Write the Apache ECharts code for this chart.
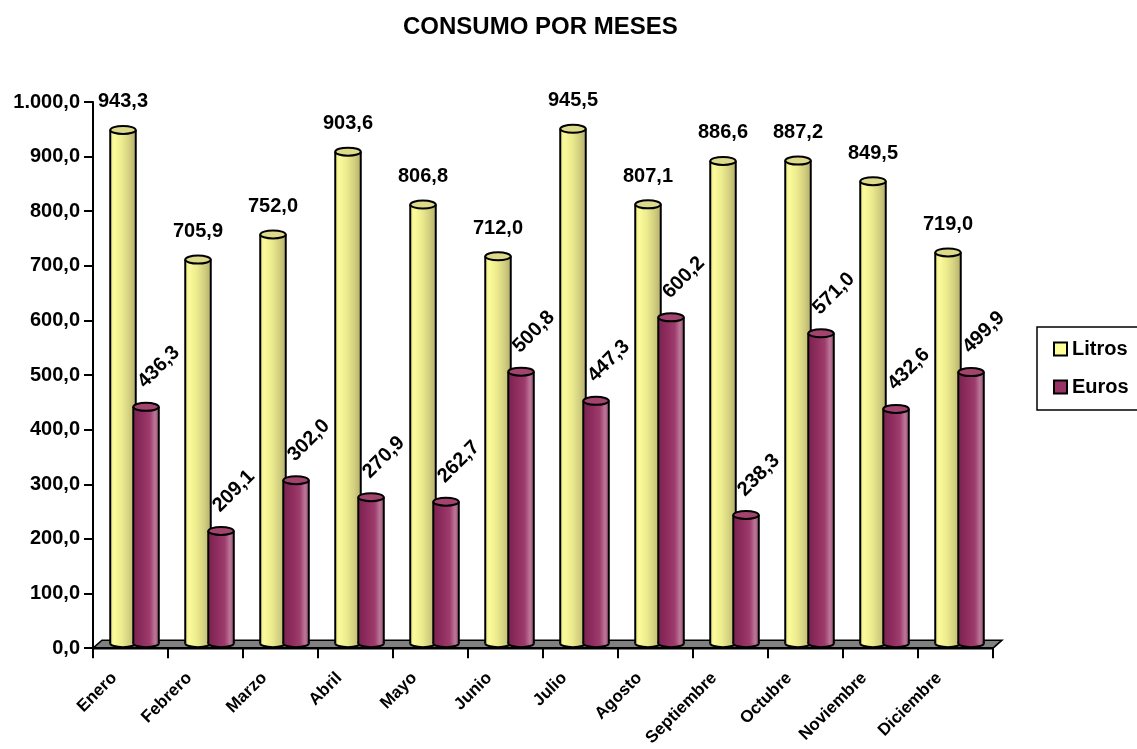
<!DOCTYPE html>
<html>
<head>
<meta charset="utf-8">
<script src="https://cdn.jsdelivr.net/npm/echarts@6/dist/echarts.min.js"></script>
<style>
html,body{margin:0;padding:0;background:#fff;}
#chart{width:1137px;height:749px;}
</style>
</head>
<body>
<div id="chart"></div>
<script>
const categories = ['Enero','Febrero','Marzo','Abril','Mayo','Junio','Julio','Agosto','Septiembre','Octubre','Noviembre','Diciembre'];
const litros = [943.3, 705.9, 752.0, 903.6, 806.8, 712.0, 945.5, 807.1, 886.6, 887.2, 849.5, 719.0];
const euros = [436.3, 209.1, 302.0, 270.9, 262.7, 500.8, 447.3, 600.2, 238.3, 571.0, 432.6, 499.9];
const seriesNames = ['Litros', 'Euros'];
const titleText = 'CONSUMO POR MESES';

const FONT = '"Liberation Sans", Arial, sans-serif';

function fmt(v, thousands) {
  let s = v.toFixed(1).replace('.', ',');
  if (thousands) {
    const parts = s.split(',');
    parts[0] = parts[0].replace(/\B(?=(\d{3})+(?!\d))/g, '.');
    s = parts.join(',');
  }
  return s;
}

const bodyStops = [
  [
    {offset: 0, color: '#e8e884'},
    {offset: 0.15, color: '#fbfb9c'},
    {offset: 0.45, color: '#ecec8e'},
    {offset: 0.75, color: '#d2cf80'},
    {offset: 1, color: '#b5b16c'}
  ],
  [
    {offset: 0, color: '#7a2250'},
    {offset: 0.35, color: '#8f2e5e'},
    {offset: 0.65, color: '#9e3d6d'},
    {offset: 0.85, color: '#bb7797'},
    {offset: 1, color: '#9c5478'}
  ]
];
const topColors = ['#deda8c', '#a3446f'];
const baseColors = ['#ffff99', '#993366'];

function cylinder(kind) {
  return function (params, api) {
    const i = api.value(0), v = api.value(1);
    const p = api.coord([i, v]);
    const b = api.coord([i, 0]);
    const bw = api.size([1, 0])[0];
    const cx = b[0] + (kind === 0 ? -0.1 : 0.207) * bw;
    const rx = 0.17 * bw, ry = 4;
    const ty = p[1] - 3, by = b[1] - 5;
    const grad = {type: 'linear', x: 0, y: 0, x2: 1, y2: 0, colorStops: bodyStops[kind]};
    const children = [
      {type: 'ellipse', shape: {cx: cx, cy: by, rx: rx, ry: ry}, style: {fill: grad, stroke: '#000', lineWidth: 2}},
      {type: 'rect', shape: {x: cx - rx, y: ty, width: 2 * rx, height: by - ty}, style: {fill: grad}},
      {type: 'line', shape: {x1: cx - rx, y1: ty, x2: cx - rx, y2: by}, style: {stroke: '#000', lineWidth: 2}},
      {type: 'line', shape: {x1: cx + rx, y1: ty, x2: cx + rx, y2: by}, style: {stroke: '#000', lineWidth: 2}},
      {type: 'ellipse', shape: {cx: cx, cy: ty, rx: rx, ry: ry}, style: {fill: topColors[kind], stroke: '#000', lineWidth: 2}}
    ];
    if (kind === 0) {
      children.push({type: 'text', x: cx, y: ty - 28, style: {text: fmt(v), fill: '#000', fontSize: 20, fontWeight: 'bold', fontFamily: FONT, align: 'center', verticalAlign: 'middle'}});
    } else {
      children.push({type: 'text', x: cx - 5, y: ty - 22, rotation: Math.PI / 4, style: {text: fmt(v), fill: '#000', fontSize: 20, fontWeight: 'bold', fontFamily: FONT, align: 'left', verticalAlign: 'middle'}});
    }
    return {type: 'group', children: children};
  };
}

function floor(params, api) {
  const cs = params.coordSys;
  const x = cs.x, y = cs.y + cs.height, w = cs.width;
  return {
    type: 'group',
    children: [
      {type: 'polygon', shape: {points: [[x, y], [x + 9, y - 8], [x + w + 9, y - 8], [x + w, y]]}, style: {fill: '#808080', stroke: '#000', lineWidth: 1.5}},
      {type: 'line', shape: {x1: x, y1: y, x2: x + w, y2: y}, style: {stroke: '#000', lineWidth: 2.5}}
    ]
  };
}

const chart = echarts.init(document.getElementById('chart'));
chart.setOption({
  animation: false,
  backgroundColor: '#fff',
  title: {
    text: titleText,
    left: 403,
    top: 15,
    padding: 0,
    textStyle: {fontSize: 24, fontWeight: 'bold', color: '#000', fontFamily: FONT}
  },
  legend: {
    orient: 'vertical',
    left: 1037,
    top: 327,
    padding: [12, 24, 13, 16],
    borderColor: '#000',
    borderWidth: 1.5,
    itemWidth: 13,
    itemHeight: 13,
    itemGap: 18,
    textStyle: {fontSize: 20, fontWeight: 'bold', color: '#000', fontFamily: FONT},
    data: [
      {name: seriesNames[0], icon: 'rect', itemStyle: {color: baseColors[0], borderColor: '#000', borderWidth: 2}},
      {name: seriesNames[1], icon: 'rect', itemStyle: {color: baseColors[1], borderColor: '#000', borderWidth: 2}}
    ]
  },
  grid: {left: 93, right: 144, top: 102, bottom: 97, containLabel: false},
  xAxis: {
    type: 'category',
    data: categories,
    boundaryGap: true,
    axisLine: {lineStyle: {color: '#000', width: 2}},
    axisTick: {show: true, length: 10, lineStyle: {color: '#000', width: 2}},
    axisLabel: {rotate: 45, interval: 0, margin: 11, padding: [0, 23, 0, 0], fontSize: 17, fontWeight: 'bold', color: '#000', fontFamily: FONT},
    splitLine: {show: false}
  },
  yAxis: {
    type: 'value',
    min: 0,
    max: 1000,
    interval: 100,
    axisLine: {show: true, lineStyle: {color: '#000', width: 2}},
    axisTick: {show: true, length: 9, lineStyle: {color: '#000', width: 2}},
    axisLabel: {margin: 13, fontSize: 20, fontWeight: 'bold', color: '#000', fontFamily: FONT, formatter: function (v) { return fmt(v, true); }},
    splitLine: {show: false}
  },
  series: [
    {type: 'custom', name: 'floor', silent: true, clip: false, renderItem: floor, data: [[0, 0]], z: 1},
    {type: 'custom', name: seriesNames[0], clip: false, itemStyle: {color: baseColors[0]}, renderItem: cylinder(0), data: litros.map((v, i) => [i, v]), z: 2},
    {type: 'custom', name: seriesNames[1], clip: false, itemStyle: {color: baseColors[1]}, renderItem: cylinder(1), data: euros.map((v, i) => [i, v]), z: 3}
  ]
});
</script>
</body>
</html>
